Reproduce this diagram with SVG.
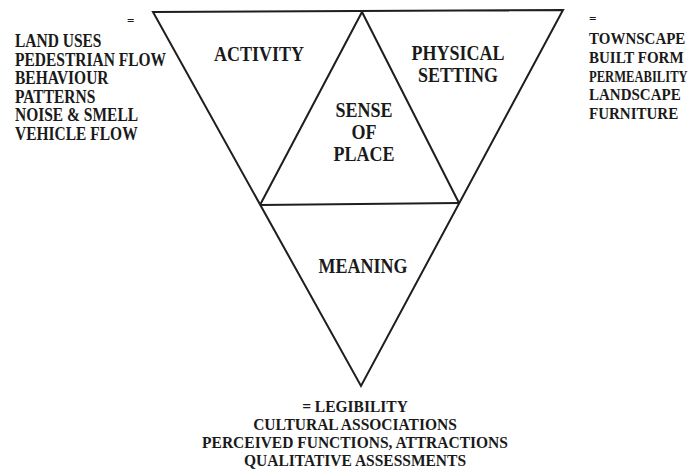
<svg xmlns="http://www.w3.org/2000/svg" width="690" height="470" viewBox="0 0 690 470">
  <style>
    .t { font-family: "Liberation Serif", "Times New Roman", serif; font-weight: bold; fill: #1a1a1a; }
    .lbl { font-size: 18px; text-anchor: middle; }
    .lst { font-size: 15.5px; }
    .lstr { font-size: 15px; }
    .btm { font-size: 15.5px; text-anchor: middle; }
    .eq { font-size: 13px; }
    .edge { stroke: #1e1e1e; stroke-width: 2; fill: none; stroke-linejoin: miter; }
  </style>
  <rect width="690" height="470" fill="#ffffff"/>

  <!-- inverted triangle split into four parts -->
  <g id="frame">
    <polygon class="edge" points="153,12 563,10 361,386"/>
    <polyline class="edge" points="260,205 362,12 459,203"/>
    <line class="edge" x1="260" y1="205" x2="459" y2="203"/>
  </g>

  <g id="activity">
    <g transform="translate(259,61) scale(1,1.15)">
      <text class="t lbl" x="0" y="0">ACTIVITY</text>
    </g>
  </g>

  <g id="physical-setting">
    <g transform="translate(458,60) scale(1,1.15)">
      <text class="t lbl" x="0" y="0">PHYSICAL</text>
    </g>
    <g transform="translate(458,82) scale(1,1.15)">
      <text class="t lbl" x="0" y="0">SETTING</text>
    </g>
  </g>

  <g id="sense-of-place">
    <g transform="translate(364,117) scale(1,1.15)">
      <text class="t lbl" x="0" y="0">SENSE</text>
    </g>
    <g transform="translate(364,139) scale(1,1.15)">
      <text class="t lbl" x="0" y="0">OF</text>
    </g>
    <g transform="translate(364,161) scale(1,1.15)">
      <text class="t lbl" x="0" y="0">PLACE</text>
    </g>
  </g>

  <g id="meaning">
    <g transform="translate(363,273) scale(1,1.15)">
      <text class="t lbl" x="0" y="0">MEANING</text>
    </g>
  </g>

  <!-- attributes of activity -->
  <g id="activity-list">
    <text class="t eq" x="127" y="25">=</text>
    <g transform="translate(15,47) scale(1,1.15)">
      <text class="t lst" x="0" y="0">
        <tspan x="0" dy="0">LAND USES</tspan>
        <tspan x="0" dy="16.1">PEDESTRIAN FLOW</tspan>
        <tspan x="0" dy="16.1">BEHAVIOUR</tspan>
        <tspan x="0" dy="16.1">PATTERNS</tspan>
        <tspan x="0" dy="16.1">NOISE &amp; SMELL</tspan>
        <tspan x="0" dy="16.1">VEHICLE FLOW</tspan>
      </text>
    </g>
  </g>

  <!-- attributes of physical setting -->
  <g id="setting-list">
    <text class="t eq" x="589" y="23">=</text>
    <g transform="translate(589,44) scale(1,1.15)">
      <text class="t lstr" x="0" y="0">
        <tspan x="0" dy="0">TOWNSCAPE</tspan>
        <tspan x="0" dy="16.3">BUILT FORM</tspan>
      </text>
    </g>
    <!-- narrowed line so it fits the right margin -->
    <g transform="translate(589,81.5) scale(0.84,1.15)">
      <text class="t lstr" x="0" y="0">PERMEABILITY</text>
    </g>
    <g transform="translate(589,100.2) scale(1,1.15)">
      <text class="t lstr" x="0" y="0">
        <tspan x="0" dy="0">LANDSCAPE</tspan>
        <tspan x="0" dy="16.3">FURNITURE</tspan>
      </text>
    </g>
  </g>

  <!-- attributes of meaning -->
  <g id="meaning-list">
    <g transform="translate(355,412) scale(1,1.08)">
      <text class="t btm" x="0" y="0">= LEGIBILITY</text>
    </g>
    <g transform="translate(355,430) scale(1,1.08)">
      <text class="t btm" x="0" y="0">CULTURAL ASSOCIATIONS</text>
    </g>
    <g transform="translate(355,448) scale(1,1.08)">
      <text class="t btm" x="0" y="0">PERCEIVED FUNCTIONS, ATTRACTIONS</text>
    </g>
    <g transform="translate(355,466) scale(1,1.08)">
      <text class="t btm" x="0" y="0">QUALITATIVE ASSESSMENTS</text>
    </g>
  </g>
</svg>
